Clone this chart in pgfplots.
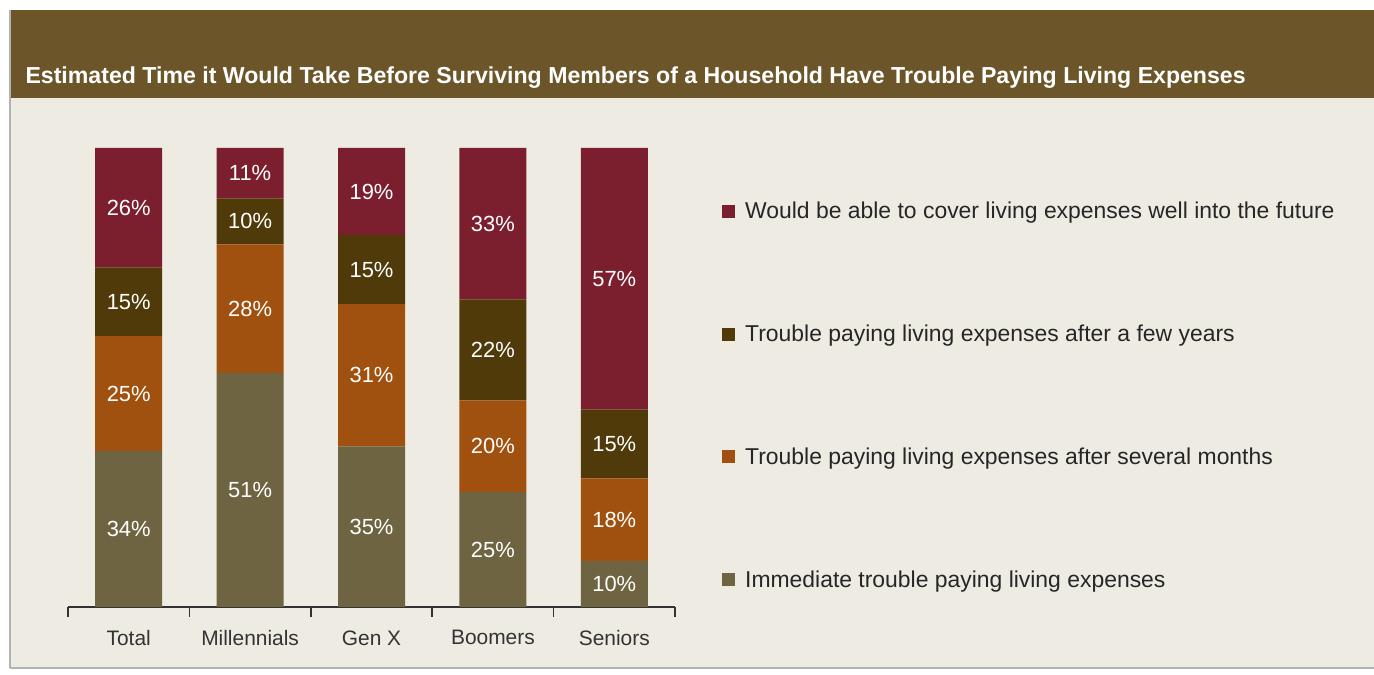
\documentclass[border=0pt]{standalone}
\usepackage{pgfplots}
\pgfplotsset{compat=1.18}
\usepackage{fontspec}
\setmainfont{Liberation Sans}
\definecolor{bgbeige}{HTML}{EEEBE2}
\definecolor{titlebar}{HTML}{6C5629}
\definecolor{cmaroon}{HTML}{7B1F2F}
\definecolor{cdark}{HTML}{503A0A}
\definecolor{corange}{HTML}{A0500F}
\definecolor{colive}{HTML}{6E6441}
\begin{document}
\begin{tikzpicture}
\useasboundingbox (0,0) rectangle (1374bp,675bp);
\fill[white] (0,0) rectangle (1374bp,675bp);
\fill[bgbeige] (10bp,7bp) rectangle (1374bp,577bp);
\fill[titlebar] (10bp,577bp) rectangle (1374bp,665bp);
\draw[gray!60, line width=1.5bp] (10bp,7bp) -- (10bp,665bp);
\draw[gray!60, line width=1.5bp] (10bp,7bp) -- (1374bp,7bp);
\node[anchor=west, text=white, font=\bfseries\fontsize{23.2}{27}\selectfont] at (22bp,597bp)
  {Estimated Time it Would Take Before Surviving Members of a Household Have Trouble Paying Living Expenses};
\begin{axis}[
  at={(68bp,68bp)}, anchor=south west,
  scale only axis, width=607bp, height=459bp,
  ybar stacked, bar width=67bp,
  xmin=-0.5, xmax=4.5, ymin=0, ymax=100,
  axis x line*=bottom, axis y line=none,
  x axis line style={-, draw=black!80, line width=1.6bp},
  xtick={0,1,2,3,4},
  xticklabels={Total,Millennials,Gen X,Boomers,Seniors},
  major tick length=0pt,
  minor xtick={-0.5,0.5,1.5,2.5,3.5,4.5},
  minor tick length=10bp, tick align=outside,
  minor tick style={draw=black!80, line width=1.6bp},
  xticklabel style={font=\fontsize{21}{25}\selectfont, text=black!80, yshift=-20bp},
  point meta=explicit symbolic,
  nodes near coords={\pgfplotspointmeta\%},
  every node near coord/.append style={anchor=center, text=white,
    font=\fontsize{22}{26}\selectfont},
  legend style={at={(1.0774,0.8867)}, anchor=north west, draw=none, fill=none,
    font=\fontsize{23}{28}\selectfont, row sep=100.7bp, inner sep=0pt,
    cells={anchor=west}, text=black!85},
  reverse legend,
  legend image code/.code={\fill[#1] (0bp,-6.5bp) rectangle (13bp,6.5bp); \path (21bp,0bp);},
]
\addplot[fill=colive, draw=none] coordinates {(0,34) [34] (1,51) [51] (2,35) [35] (3,25) [25] (4,10) [10]};
\addlegendentry{Immediate trouble paying living expenses}
\addplot[fill=corange, draw=none] coordinates {(0,25) [25] (1,28) [28] (2,31) [31] (3,20) [20] (4,18) [18]};
\addlegendentry{Trouble paying living expenses after several months}
\addplot[fill=cdark, draw=none] coordinates {(0,15) [15] (1,10) [10] (2,15) [15] (3,22) [22] (4,15) [15]};
\addlegendentry{Trouble paying living expenses after a few years}
\addplot[fill=cmaroon, draw=none] coordinates {(0,26) [26] (1,11) [11] (2,19) [19] (3,33) [33] (4,57) [57]};
\addlegendentry{Would be able to cover living expenses well into the future}
\end{axis}
\end{tikzpicture}
\end{document}
